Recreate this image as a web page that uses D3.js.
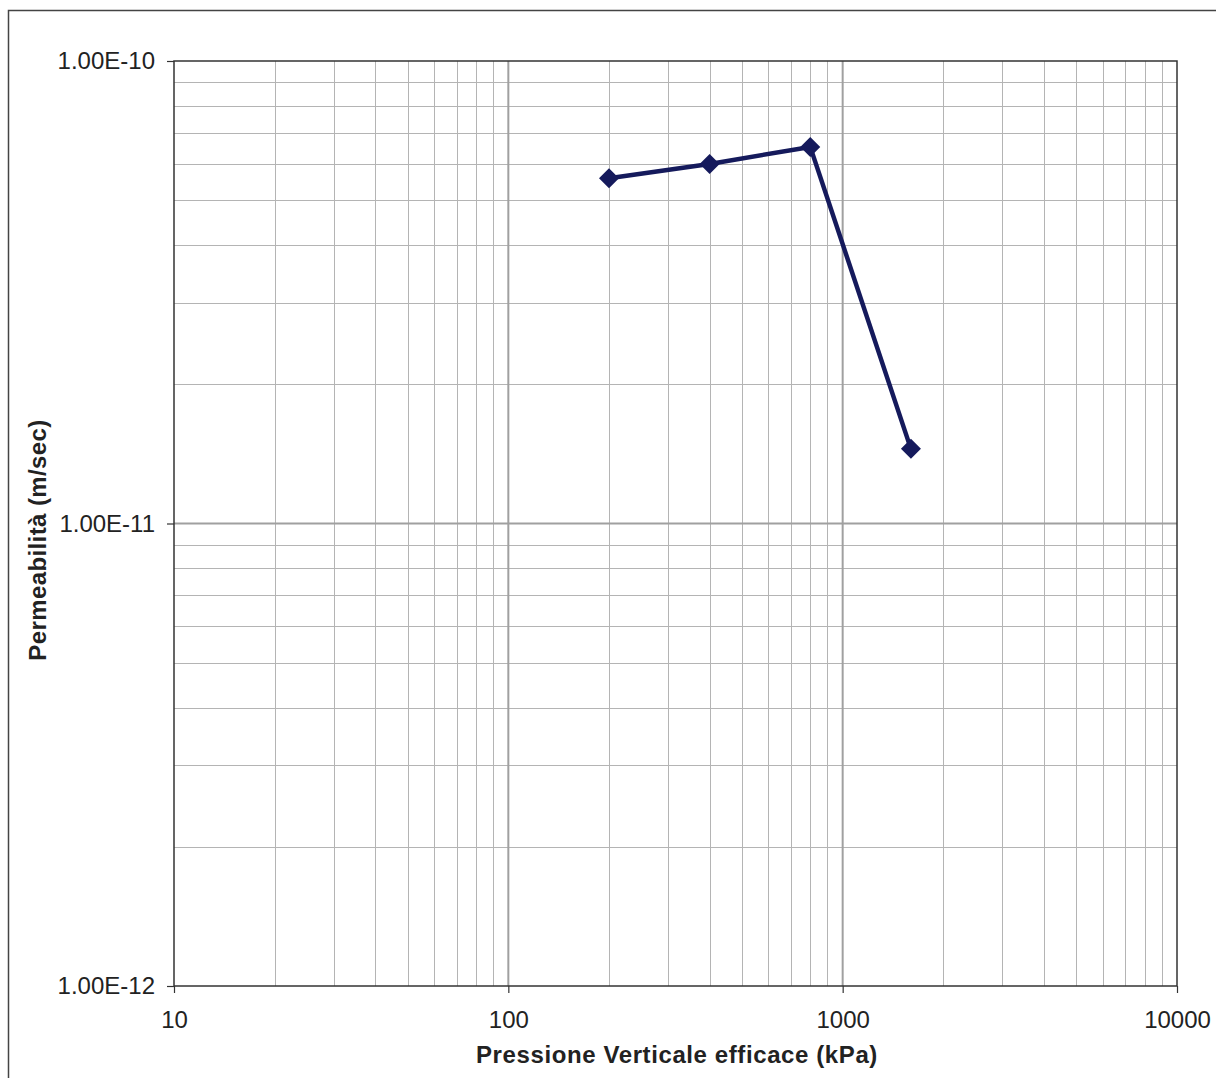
<!DOCTYPE html>
<html>
<head>
<meta charset="utf-8">
<script src="https://cdn.jsdelivr.net/npm/d3@7"></script>
<style>
body { margin: 0; background: #fff; }
text { font-family: "Liberation Sans", Arial, sans-serif; fill: #222; }
</style>
</head>
<body>
<svg id="chart" width="1216" height="1078"></svg>
<script>
// data
const pressure = [200, 400, 800, 1600];
const permeab = [5.58e-11, 5.99e-11, 6.52e-11, 1.45e-11];
const xTicks = [10, 100, 1000, 10000];
const yTicks = [1e-12, 1e-11, 1e-10];
const yLabels = ["1.00E-12", "1.00E-11", "1.00E-10"];

const svg = d3.select("#chart");
const m = {left: 174, top: 61, right: 1177, bottom: 986};

const x = d3.scaleLog().domain([10, 10000]).range([m.left, m.right]);
const y = d3.scaleLog().domain([1e-12, 1e-10]).range([m.bottom, m.top]);

// outer frame
svg.append("rect")
    .attr("x", 8.5).attr("y", 10.5)
    .attr("width", 1230).attr("height", 1100)
    .attr("fill", "none").attr("stroke", "#444").attr("stroke-width", 1.5);

// minor grid
let minorX = [], minorY = [];
for (let d = 10; d < 10000; d *= 10)
    for (let k = 2; k <= 9; k++) minorX.push(d * k);
for (let d = 1e-12; d < 1e-10 * 0.99; d *= 10)
    for (let k = 2; k <= 9; k++) minorY.push(d * k);

const grid = svg.append("g");
grid.selectAll(".mx").data(minorX).join("line")
    .attr("x1", d => Math.round(x(d)) + 0.5).attr("x2", d => Math.round(x(d)) + 0.5)
    .attr("y1", m.top).attr("y2", m.bottom)
    .attr("stroke", "#b4b4b4").attr("stroke-width", 1);
grid.selectAll(".my").data(minorY).join("line")
    .attr("y1", d => Math.round(y(d)) + 0.5).attr("y2", d => Math.round(y(d)) + 0.5)
    .attr("x1", m.left).attr("x2", m.right)
    .attr("stroke", "#b4b4b4").attr("stroke-width", 1);

// major grid
grid.selectAll(".Mx").data(xTicks.slice(1, -1)).join("line")
    .attr("x1", d => x(d)).attr("x2", d => x(d))
    .attr("y1", m.top).attr("y2", m.bottom)
    .attr("stroke", "#a0a0a0").attr("stroke-width", 2);
grid.selectAll(".My").data(yTicks.slice(1, -1)).join("line")
    .attr("y1", d => y(d)).attr("y2", d => y(d))
    .attr("x1", m.left).attr("x2", m.right)
    .attr("stroke", "#a0a0a0").attr("stroke-width", 2);

// plot border
svg.append("rect")
    .attr("x", m.left).attr("y", m.top)
    .attr("width", m.right - m.left).attr("height", m.bottom - m.top)
    .attr("fill", "none").attr("stroke", "#333").attr("stroke-width", 1.5);

// axes
const xAxis = d3.axisBottom(x).tickValues(xTicks).tickFormat(d3.format("d"))
    .tickSizeInner(7).tickSizeOuter(0).tickPadding(18);
const gx = svg.append("g").attr("transform", `translate(0,${m.bottom})`).call(xAxis);
gx.select(".domain").remove();
gx.selectAll("line").attr("stroke", "#333").attr("stroke-width", 1.2);
gx.selectAll("text").attr("font-size", 24).attr("fill", "#222")
    .attr("font-family", "Liberation Sans, Arial, sans-serif");

const yAxis = d3.axisLeft(y).tickValues(yTicks).tickFormat((d, i) => yLabels[i])
    .tickSizeInner(7).tickSizeOuter(0).tickPadding(12);
const gy = svg.append("g").attr("transform", `translate(${m.left},0)`).call(yAxis);
gy.select(".domain").remove();
gy.selectAll("line").attr("stroke", "#333").attr("stroke-width", 1.2);
gy.selectAll("text").attr("font-size", 24).attr("fill", "#222")
    .attr("font-family", "Liberation Sans, Arial, sans-serif");

// axis titles
svg.append("text")
    .attr("x", 677).attr("y", 1063)
    .attr("text-anchor", "middle").attr("font-size", 24).attr("font-weight", "bold")
    .attr("letter-spacing", 0.6)
    .text("Pressione Verticale efficace (kPa)");
svg.append("text")
    .attr("transform", "translate(46,540) rotate(-90)")
    .attr("text-anchor", "middle").attr("font-size", 24).attr("font-weight", "bold")
    .attr("letter-spacing", 0.4)
    .text("Permeabilità (m/sec)");

// series
const pts = pressure.map((p, i) => [p, permeab[i]]);
const navy = "#151a5c";
svg.append("path").datum(pts)
    .attr("d", d3.line().x(d => x(d[0])).y(d => y(d[1])))
    .attr("fill", "none").attr("stroke", navy).attr("stroke-width", 4.5)
    .attr("stroke-linejoin", "round");
svg.selectAll(".pt").data(pts).join("path")
    .attr("transform", d => `translate(${x(d[0])},${y(d[1])})`)
    .attr("d", "M0,-10L10,0L0,10L-10,0Z")
    .attr("fill", navy);
</script>
</body>
</html>
